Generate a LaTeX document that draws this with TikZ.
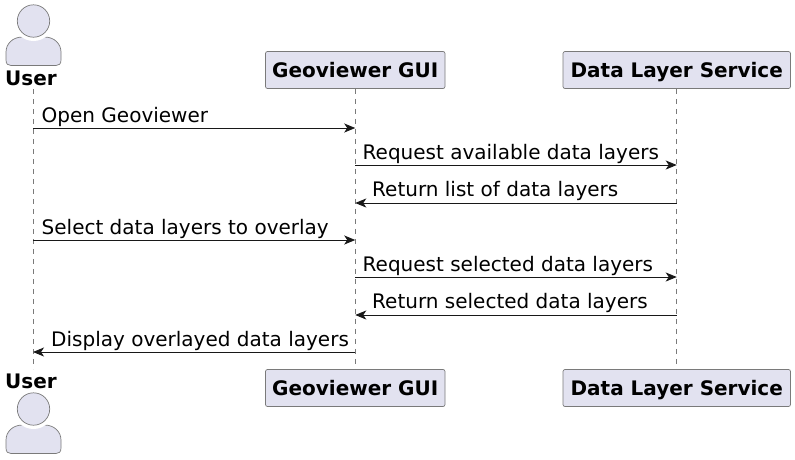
\documentclass[tikz,border=0pt]{standalone}
\usepackage{fontspec}
\setmainfont{DejaVu Sans}
\usetikzlibrary{arrows.meta, positioning, backgrounds}

\definecolor{partfill}{HTML}{E2E2F0}
\definecolor{partline}{HTML}{7A7A7A}
\definecolor{msgline}{HTML}{181818}

\begin{document}
\begin{tikzpicture}[
    x=1pt, y=-1pt,
    box/.style={rectangle, draw=partline, fill=partfill, line width=0.7pt, rounded corners=2pt, minimum height=37pt, inner sep=0pt, text height=15pt, text depth=0pt, align=center, font=\fontsize{20}{24}\selectfont\bfseries},
    actorname/.style={inner sep=0pt, anchor=base, font=\fontsize{20}{24}\selectfont\bfseries},
    lifeline/.style={draw=partline, line width=0.7pt, dash pattern=on 5pt off 5pt},
    msg/.style={-{Stealth[length=11pt, width=9pt, inset=3pt]}, draw=msgline, line width=0.9pt},
    msglabel/.style={inner sep=0pt, anchor=base west, font=\fontsize{20}{24}\selectfont},
    actorfig/.pic={
        \draw[draw=partline, fill=partfill, line width=0.7pt] (-27.5,39) -- (-27.5,31) .. controls (-27.5,23) and (-21,16) .. (-11,16) -- (11,16) .. controls (21,16) and (27.5,23) .. (27.5,31) -- (27.5,39) .. controls (27.5,43) and (25.5,44.5) .. (22.5,44.5) -- (-22.5,44.5) .. controls (-25.5,44.5) and (-27.5,43) .. (-27.5,39) -- cycle;
        \fill[white] (0,0) circle (20);
        \draw[draw=partline, fill=partfill, line width=0.7pt] (0,0) circle (16.2);
    },
]
\useasboundingbox (0,0) rectangle (795,459);

% Participants
\pic at (33.5,21) {actorfig};
\node[actorname] (usertop) at (31,85) {User};
\node[box, minimum width=179.5pt] (guitop) at (355.25,70) {Geoviewer GUI};
\node[box, minimum width=227.5pt] (datatop) at (676.75,70) {Data Layer Service};

\pic at (33.5,409) {actorfig};
\node[actorname] (userbot) at (31,388) {User};
\node[box, minimum width=179.5pt] (guibot) at (355.25,388) {Geoviewer GUI};
\node[box, minimum width=227.5pt] (databot) at (676.75,388) {Data Layer Service};

% Lifelines
\coordinate (userstart) at (33,89);
\coordinate (userend) at (33,369);
\begin{scope}[on background layer]
\draw[lifeline] (userstart) -- (userend);
\draw[lifeline] (guitop) -- (guibot);
\draw[lifeline] (datatop) -- (databot);
\end{scope}

% Messages
\coordinate (m1) at (0,128);
\coordinate (m2) at (0,165);
\coordinate (m3) at (0,203);
\coordinate (m4) at (0,240);
\coordinate (m5) at (0,277);
\coordinate (m6) at (0,315);
\coordinate (m7) at (0,352);

\draw[msg] (userstart |- m1) -- (guitop |- m1);
\draw[msg] (guitop |- m2) -- (datatop |- m2);
\draw[msg] (datatop |- m3) -- (guitop |- m3);
\draw[msg] (userstart |- m4) -- (guitop |- m4);
\draw[msg] (guitop |- m5) -- (datatop |- m5);
\draw[msg] (datatop |- m6) -- (guitop |- m6);
\draw[msg] (guitop |- m7) -- (userstart |- m7);

% Labels above
\node[msglabel] (l1) at (41.5,122) {Open Geoviewer};
\node[msglabel] (l2) at (362.5,159) {Request available data layers};
\node[msglabel] (l3) at (372,196) {Return list of data layers};
\node[msglabel] (l4) at (41.5,234) {Select data layers to overlay};
\node[msglabel] (l5) at (362.5,271) {Request selected data layers};
\node[msglabel] (l6) at (372,308) {Return selected data layers};
\node[msglabel] (l7) at (51,346) {Display overlayed data layers};

\end{tikzpicture}
\end{document}
